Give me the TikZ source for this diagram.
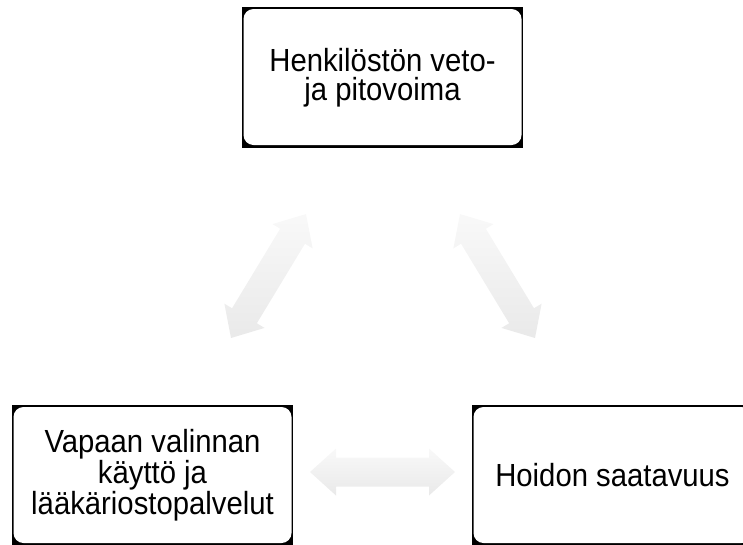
\documentclass[tikz,border=0pt]{standalone}
\usepackage{fontspec}
\setmainfont{Liberation Sans}
\newfontfamily\boxfont[FakeStretch=0.915]{Liberation Sans}
\usetikzlibrary{calc}
\tikzset{
  box/.style={rectangle, minimum width=281pt, minimum height=141pt, inner sep=0pt,
    fill=black, align=center, font=\boxfont\fontsize{32}{29}\selectfont,
    path picture={\fill[white, rounded corners=10pt]
      ([shift={(1.5pt,-2pt)}]path picture bounding box.north west) rectangle
      ([shift={(-1.5pt,3pt)}]path picture bounding box.south east);}},
  arrowshade/.style={top color=gray!5, bottom color=gray!17, draw=none},
}
\newcommand\fatarrow[2]{%
  \path ($(#1)!26pt!(#2)$) coordinate (fa1) ($(#2)!26pt!(#1)$) coordinate (fa2);
  \shade[arrowshade] (#1)
    -- ($(fa1)!23.5pt!90:(#2)$) -- ($(fa1)!14.5pt!90:(#2)$)
    -- ($(fa2)!14.5pt!-90:(#1)$) -- ($(fa2)!23.5pt!-90:(#1)$)
    -- (#2)
    -- ($(fa2)!23.5pt!90:(#1)$) -- ($(fa2)!14.5pt!90:(#1)$)
    -- ($(fa1)!14.5pt!-90:(#2)$) -- ($(fa1)!23.5pt!-90:(#2)$)
    -- cycle;}
\begin{document}
\begin{tikzpicture}[x=1pt, y=-1pt]
  \useasboundingbox (0,0) rectangle (743,544);
  \node[box] (top) at (382.5,77.5) {Henkilöstön veto-\\ja pitovoima};
  \node[box] (left) at (152.5,475.5) {Vapaan valinnan\\käyttö ja\\lääkäriostopalvelut};
  \node[box] (right) at (612.5,475.5) {Hoidon saatavuus};
  % arrow end points
  \coordinate (la) at (231,338);
  \coordinate (lb) at (306,214);
  \coordinate (ra) at (460,214);
  \coordinate (rb) at (535,338);
  \coordinate (ba) at (310,472);
  \coordinate (bb) at (455,472);
  \fatarrow{la}{lb}
  \fatarrow{ra}{rb}
  \fatarrow{ba}{bb}
\end{tikzpicture}
\end{document}
